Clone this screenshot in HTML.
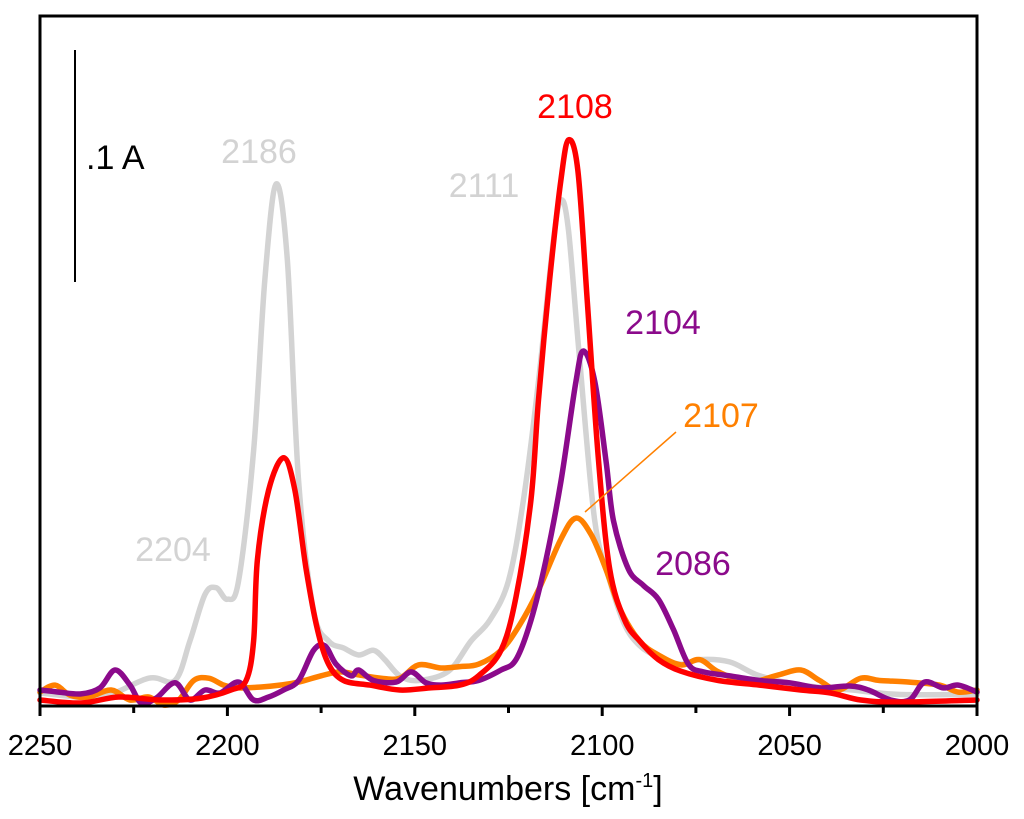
<!DOCTYPE html>
<html><head><meta charset="utf-8"><style>
html,body{margin:0;padding:0;background:#fff;}
svg{display:block;font-family:"Liberation Sans",Arial,sans-serif;}
</style></head><body>
<div style="position:relative;width:1024px;height:819px;">
<svg id="chart" width="1024" height="819" viewBox="0 0 1024 819" xmlns="http://www.w3.org/2000/svg" style="position:absolute;left:0;top:0;">
<rect x="0" y="0" width="1024" height="819" fill="#fff"/>
<g id="series"></g>
<rect x="40" y="16" width="937" height="690" fill="none" stroke="#000" stroke-width="3"/>
<g id="ticks"></g>
<line x1="75" y1="50" x2="75" y2="282" stroke="#000" stroke-width="2"/>
<text x="86" y="169" font-size="34" fill="#000">.1 A</text>
<text x="508" y="800" font-size="34" text-anchor="middle" fill="#000">Wavenumbers [cm<tspan dy="-13" font-size="20">-1</tspan><tspan dy="13">]</tspan></text>
<text x="259" y="163" font-size="34" text-anchor="middle" fill="#d3d3d3">2186</text>
<text x="484" y="197" font-size="34" text-anchor="middle" fill="#d3d3d3">2111</text>
<text x="173" y="561" font-size="34" text-anchor="middle" fill="#d3d3d3">2204</text>
<text x="575" y="118" font-size="34" text-anchor="middle" fill="#ff0000">2108</text>
<text x="663" y="334" font-size="34" text-anchor="middle" fill="#8b0a8b">2104</text>
<text x="721" y="427" font-size="34" text-anchor="middle" fill="#ff8000">2107</text>
<text x="693" y="575" font-size="34" text-anchor="middle" fill="#8b0a8b">2086</text>
<line x1="585" y1="512" x2="676" y2="432" stroke="#ff8000" stroke-width="1.5"/>
</svg>
</div>
<script>
// Data: wavenumbers (cm-1) and absorbance in mA
const grayW=[2250,2234,2221,2214,2210,2206,2203,2200,2197,2193,2190,2187,2184,2181,2177,2173,2169,2165,2161,2158,2154,2149,2141,2135,2130,2125,2121,2117,2113,2111,2109,2106,2102,2098,2094,2090,2085,2079,2074,2066,2058,2047,2034,2021,2000];
const grayA=[5.6,3.9,12,11,28,48,51,46,54,110,184,225,192,97,41,28,25,22,24,20,13,11,15,28,37,54,89,140,201,218,205,149,80,54,35,26,21,18,20,19,13,9,7,5,5];
const redW=[2250,2239,2229,2218,2207,2199,2195,2193,2192,2189,2185,2182,2179,2176,2173,2169,2162,2154,2146,2138,2133,2127,2123,2119,2117,2114,2111,2109,2106.5,2104,2101,2098,2094,2090,2085,2079,2069,2058,2047,2039,2031,2021,2000];
const redA=[2.6,1.3,3.9,2.6,3.4,6.9,11,28,63,93,107,93,59,33,18,11,9,6.9,7.8,9,13,24,47,89,132,184,227,244,231,175,106,59,37,28,20,15,11,9,6.9,5.6,2.6,1.7,2.6];
const purpleW=[2250,2245,2239,2234,2230,2226,2223,2219,2214,2210,2206,2202,2197,2193,2189,2185,2181,2177,2174,2171,2167,2165,2161,2155,2151,2147,2143,2138,2133,2127,2123,2119,2115,2111,2107,2105,2102,2099,2097,2093,2089,2085,2081,2077,2073,2066,2058,2050,2042,2034,2029,2023,2018,2014,2009,2005,2000];
const purpleA=[6.9,6,5.2,7.8,15.5,9,1.3,3.4,10,2.6,6.9,5.6,10.3,2.6,3.9,6.9,11,24,26,18,13,15.5,11,10.3,14.7,10,9,10,11,15.5,20,37,63,97,140,153,140,106,80,59,52,46,33,18,14.7,13,11,10,7.8,8.6,6.9,2.6,2.6,10.3,7.8,9,6];
const orangeW=[2250,2246,2242,2237,2231,2226,2221,2217,2213,2209,2205,2201,2197,2191,2186,2181,2175,2170,2165,2159,2154,2149,2143,2138,2133,2127,2122,2117,2111,2107,2103,2099,2095,2090,2085,2079,2074,2069,2061,2053,2047,2042,2037,2031,2026,2018,2010,2005,2000];
const orangeA=[6,9,4.7,3.9,6.9,2.6,3.9,0.4,2.6,11,12,9,7.8,8.2,9,10.3,13,14.7,13.4,12,12,17.7,16.4,17,18,24,35,50,72,81,74,59,41,28,22,17.7,20,14.7,10.3,13.4,15.5,11,6.9,12,11,10.3,9,6,6.9];
const xTicks=[2250,2200,2150,2100,2050,2000];
const xMinor=[2225,2175,2125,2075,2025];

const X0=40,X1=977,Y0=706,W0=2250,W1=2000,AS=2.32;
function xs(w){return X0+(W0-w)*(X1-X0)/(W0-W1);}
function ys(a){return Y0-a*AS;}
const NS="http://www.w3.org/2000/svg";
const gS=document.getElementById('series');
function smoothPath(pts){
  let d='M'+pts[0][0].toFixed(1)+','+pts[0][1].toFixed(1);
  for(let i=0;i<pts.length-1;i++){
    const p0=pts[Math.max(0,i-1)],p1=pts[i],p2=pts[i+1],p3=pts[Math.min(pts.length-1,i+2)];
    const c1x=p1[0]+(p2[0]-p0[0])/6,c1y=p1[1]+(p2[1]-p0[1])/6;
    const c2x=p2[0]-(p3[0]-p1[0])/6,c2y=p2[1]-(p3[1]-p1[1])/6;
    d+=' C'+c1x.toFixed(1)+','+c1y.toFixed(1)+' '+c2x.toFixed(1)+','+c2y.toFixed(1)+' '+p2[0].toFixed(1)+','+p2[1].toFixed(1);
  }
  return d;
}
function drawSeries(ws,as,color,name){
  const p=document.createElementNS(NS,'path');
  p.setAttribute('d',smoothPath(ws.map((w,i)=>[xs(w),ys(as[i])])));
  p.setAttribute('fill','none');p.setAttribute('stroke',color);p.setAttribute('stroke-width','5.5');
  p.setAttribute('stroke-linejoin','round');p.setAttribute('stroke-linecap','round');
  
  
  gS.appendChild(p);
}
drawSeries(grayW,grayA,'#d3d3d3','gray-spectrum');
drawSeries(orangeW,orangeA,'#ff8000','orange-spectrum');
drawSeries(purpleW,purpleA,'#8b0a8b','purple-spectrum');
drawSeries(redW,redA,'#ff0000','red-spectrum');

const gT=document.getElementById('ticks');
xTicks.forEach(t=>{
  const l=document.createElementNS(NS,'line');
  l.setAttribute('x1',xs(t));l.setAttribute('x2',xs(t));l.setAttribute('y1',Y0);l.setAttribute('y2',Y0+10);
  l.setAttribute('stroke','#000');l.setAttribute('stroke-width','3');
  
  
  gT.appendChild(l);
  const tx=document.createElementNS(NS,'text');
  tx.setAttribute('x',xs(t));tx.setAttribute('y',Y0+49);tx.setAttribute('font-size','29');tx.setAttribute('text-anchor','middle');
  tx.textContent=t;
  
  
  gT.appendChild(tx);
});
xMinor.forEach(t=>{
  const l=document.createElementNS(NS,'line');
  l.setAttribute('x1',xs(t));l.setAttribute('x2',xs(t));l.setAttribute('y1',Y0);l.setAttribute('y2',Y0+7);
  l.setAttribute('stroke','#000');l.setAttribute('stroke-width','3');
  
  
  gT.appendChild(l);
});
</script>
</body></html>
